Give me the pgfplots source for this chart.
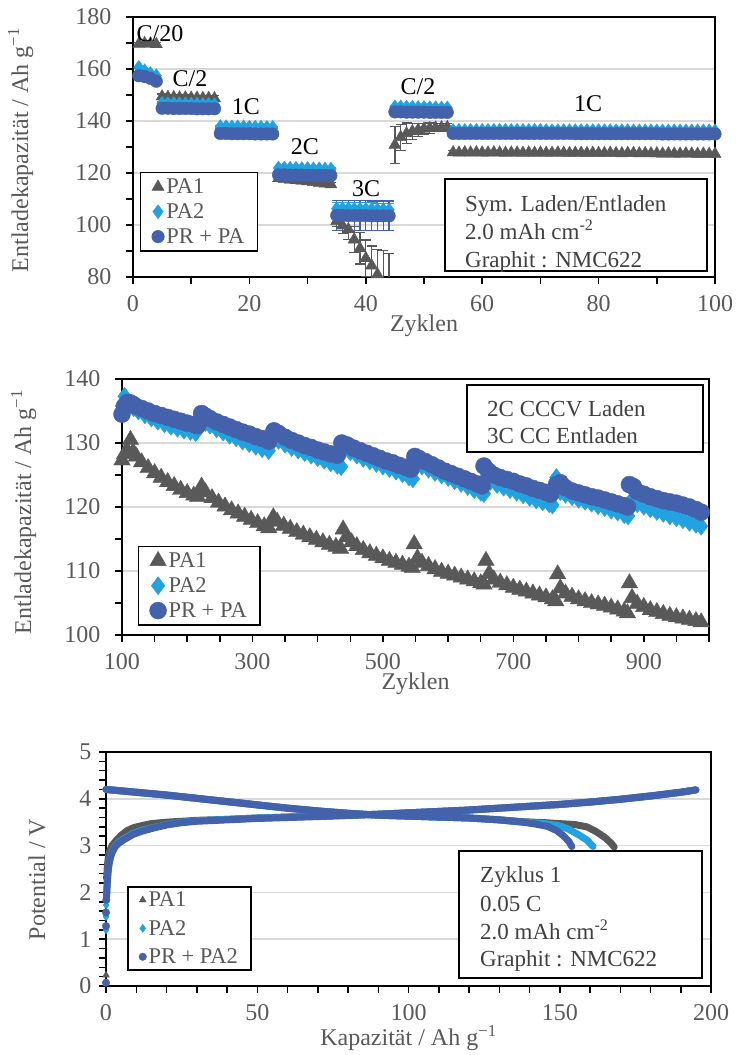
\documentclass[border=0pt]{standalone}
\usepackage{fontspec}
\setmainfont{Liberation Serif}
\usepackage{pgfplots}
\usepackage{pgfplotstable}
\pgfplotsset{compat=1.18}
\definecolor{cPAone}{HTML}{595959}
\definecolor{cPAtwo}{HTML}{22A2E0}
\definecolor{cPR}{HTML}{4462AB}
\definecolor{tgray}{HTML}{595959}
\definecolor{dgray}{HTML}{404040}
\definecolor{ggray}{HTML}{D9D9D9}
\newcommand{\fs}{\fontsize{24}{28}\selectfont}
\newcommand{\fb}{\fontsize{23}{27}\selectfont}
\newcommand{\fl}{\fontsize{22.5}{26}\selectfont}
\pgfplotsset{
  base/.style={
    scale only axis,
    axis line style={black, line width=1.8pt},
    ymajorgrids, major grid style={ggray, line width=1.6pt},
    tick align=outside, tick pos=left,
    major tick length=7pt, minor tick length=7pt,
    tick style={black, line width=1.5pt},
    tick label style={font=\fs, text=tgray},
    xticklabel style={yshift=-10pt, inner sep=1pt},
    /pgf/number format/assume math mode=true,
    label style={font=\fs, text=tgray, inner sep=1pt},
    legend cell align=left,
    legend style={draw=black, line width=1.5pt, font=\fl, text=tgray,
      inner xsep=11pt, inner ysep=4pt, row sep=4.5pt,
      nodes={inner sep=2pt, text depth=0.15em}},
    legend image post style={line width=0.4pt},
  }
}
\pgfplotstableread{
x a ea b eb c ec
1 169.6 0.6 160.6 0.5 157.4 0.8
2 169.9 0.6 159.3 0.5 157.1 0.8
3 169.7 0.6 158.2 0.5 156.4 0.8
4 169.5 0.6 157.4 0.5 155.3 0.8
5 149.4 1.0 146.8 0.5 144.9 0.8
6 149.2 1.0 146.7 0.5 144.9 0.8
7 149.1 1.0 146.7 0.5 144.8 0.8
8 149.0 1.0 146.6 0.5 144.8 0.8
9 149.0 1.0 146.6 0.5 144.8 0.8
10 148.9 1.0 146.5 0.5 144.8 0.8
11 148.9 1.0 146.5 0.5 144.7 0.8
12 148.8 1.0 146.4 0.5 144.7 0.8
13 148.8 1.0 146.4 0.5 144.7 0.8
14 148.7 1.0 146.3 0.5 144.7 0.8
15 136.3 0.6 137.8 0.5 135.2 0.8
16 136.2 0.6 137.8 0.5 135.2 0.8
17 136.1 0.6 137.7 0.5 135.1 0.8
18 136.1 0.6 137.7 0.5 135.1 0.8
19 136.0 0.6 137.7 0.5 135.1 0.8
20 136.0 0.6 137.6 0.5 135.1 0.8
21 135.9 0.6 137.6 0.5 135.0 0.8
22 135.9 0.6 137.6 0.5 135.0 0.8
23 135.8 0.6 137.5 0.5 135.0 0.8
24 135.8 0.6 137.5 0.5 135.0 0.8
25 117.9 0.8 121.9 0.5 119.3 0.8
26 117.6 0.8 121.9 0.5 119.3 0.8
27 117.4 0.8 121.8 0.5 119.2 0.8
28 117.2 0.8 121.8 0.5 119.2 0.8
29 117.0 0.8 121.7 0.5 119.2 0.8
30 116.8 0.8 121.7 0.5 119.1 0.8
31 116.5 0.8 121.6 0.5 119.1 0.8
32 116.2 0.8 121.6 0.5 119.1 0.8
33 115.9 0.8 121.5 0.5 119.0 0.8
34 115.6 0.8 121.5 0.5 119.0 0.8
35 101.5 2.0 106.3 2.5 103.7 5.7
36 99.8 3.0 106.2 2.5 103.7 5.7
37 98.3 4.0 106.2 2.5 103.6 5.7
38 94.4 5.0 106.1 2.5 103.6 5.7
39 91.0 6.0 106.1 2.5 103.6 5.7
40 87.2 7.0 106.0 2.5 103.6 5.7
41 84.4 7.5 106.0 2.5 103.5 5.7
42 81.0 9.5 105.9 2.5 103.5 5.7
43 78.2 12.0 105.9 2.5 103.5 5.7
44 76.0 13.0 105.8 2.5 103.5 5.7
45 130.8 7.0 145.4 0.5 143.5 0.8
46 133.8 5.0 145.4 0.5 143.5 0.8
47 135.2 4.0 145.3 0.5 143.4 0.8
48 136.0 3.0 145.3 0.5 143.4 0.8
49 136.6 2.5 145.2 0.5 143.4 0.8
50 137.0 2.0 145.2 0.5 143.4 0.8
51 137.2 2.0 145.1 0.5 143.3 0.8
52 137.4 1.5 145.1 0.5 143.3 0.8
53 137.5 1.5 145.0 0.5 143.3 0.8
54 137.6 1.5 145.0 0.5 143.3 0.8
55 127.9 0.6 136.4 0.4 135.2 0.6
56 127.8 0.6 136.4 0.4 135.2 0.6
57 127.9 0.6 136.4 0.4 135.2 0.6
58 127.8 0.6 136.4 0.4 135.2 0.6
59 127.9 0.6 136.4 0.4 135.2 0.6
60 127.8 0.6 136.4 0.4 135.2 0.6
61 127.8 0.6 136.4 0.4 135.2 0.6
62 127.9 0.6 136.4 0.4 135.2 0.6
63 127.8 0.6 136.4 0.4 135.2 0.6
64 127.7 0.6 136.4 0.4 135.2 0.6
65 127.8 0.6 136.4 0.4 135.2 0.6
66 127.8 0.6 136.4 0.4 135.2 0.6
67 127.7 0.6 136.4 0.4 135.2 0.6
68 127.8 0.6 136.4 0.4 135.2 0.6
69 127.7 0.6 136.4 0.4 135.2 0.6
70 127.8 0.6 136.4 0.4 135.2 0.6
71 127.7 0.6 136.3 0.4 135.2 0.6
72 127.7 0.6 136.3 0.4 135.2 0.6
73 127.8 0.6 136.3 0.4 135.2 0.6
74 127.7 0.6 136.3 0.4 135.2 0.6
75 127.6 0.6 136.3 0.4 135.2 0.6
76 127.7 0.6 136.3 0.4 135.1 0.6
77 127.7 0.6 136.3 0.4 135.1 0.6
78 127.6 0.6 136.3 0.4 135.1 0.6
79 127.7 0.6 136.3 0.4 135.1 0.6
80 127.6 0.6 136.3 0.4 135.1 0.6
81 127.6 0.6 136.3 0.4 135.1 0.6
82 127.7 0.6 136.3 0.4 135.1 0.6
83 127.6 0.6 136.3 0.4 135.1 0.6
84 127.5 0.6 136.3 0.4 135.1 0.6
85 127.6 0.6 136.3 0.4 135.1 0.6
86 127.6 0.6 136.2 0.4 135.1 0.6
87 127.5 0.6 136.2 0.4 135.1 0.6
88 127.6 0.6 136.2 0.4 135.1 0.6
89 127.5 0.6 136.2 0.4 135.1 0.6
90 127.5 0.6 136.2 0.4 135.1 0.6
91 127.4 0.6 136.2 0.4 135.0 0.6
92 127.5 0.6 136.2 0.4 135.0 0.6
93 127.4 0.6 136.2 0.4 135.0 0.6
94 127.4 0.6 136.2 0.4 135.0 0.6
95 127.5 0.6 136.2 0.4 135.0 0.6
96 127.4 0.6 136.2 0.4 135.0 0.6
97 127.3 0.6 136.2 0.4 135.0 0.6
98 127.4 0.6 136.2 0.4 135.0 0.6
99 127.3 0.6 136.2 0.4 135.0 0.6
100 127.3 0.6 136.2 0.4 135.0 0.6
}\ratetab
\begin{document}
\begin{tikzpicture}
\path[use as bounding box] (0pt,0pt) rectangle (739pt,1055pt);
% ---------------- Panel 1 ----------------
\begin{axis}[base,
  at={(133pt,778pt)}, anchor=south west,
  width=582pt, height=260pt,
  xmin=0, xmax=100, ymin=80, ymax=180,
  xtick={0,20,...,100}, ytick={80,100,...,180},
  minor x tick num=1, minor y tick num=1,
  yticklabel style={xshift=-11pt},
  xlabel={Zyklen}, ylabel={Entladekapazität / Ah g\textsuperscript{−1}},
  xlabel style={at={(axis description cs:0.5,-0.2115)}, anchor=base},
  ylabel style={at={(axis description cs:-0.193,0.488)}, anchor=center},
  legend style={at={(0.012,0.404)}, anchor=north west},
  error bars/y dir=both, error bars/y explicit,
]
\addplot[only marks, mark=triangle*, mark size=7pt, color=cPAone,
  error bars/error bar style={line width=1.2pt, cPAone},
  error bars/error mark options={rotate=90, mark size=5pt, line width=1.2pt, cPAone}]
  table[x=x, y=a, y error=ea] {\ratetab};
\addplot[only marks, mark=diamond*, mark size=7pt, color=cPAtwo,
  error bars/error bar style={line width=1.2pt, cPAtwo},
  error bars/error mark options={rotate=90, mark size=5pt, line width=1.2pt, cPAtwo}]
  table[x=x, y=b, y error=eb] {\ratetab};
\addplot[only marks, mark=*, mark size=6.3pt, color=cPR,
  error bars/error bar style={line width=1.2pt, cPR},
  error bars/error mark options={rotate=90, mark size=5pt, line width=1.2pt, cPR}]
  table[x=x, y=c, y error=ec] {\ratetab};
\legend{PA1, PA2, PR + PA}
\end{axis}
% rate labels
\begin{scope}[every node/.style={font=\fs, text=black, anchor=base, inner sep=0pt}]
\node at (160pt,1013pt) {C/20};
\node at (190pt,968pt) {C/2};
\node at (246pt,940pt) {1C};
\node at (305pt,900pt) {2C};
\node at (366pt,858pt) {3C};
\node at (418pt,960pt) {C/2};
\node at (588pt,943pt) {1C};
\end{scope}
\draw[black, line width=1.5pt, fill=white] (445pt,784pt) rectangle (707pt,876pt);
\begin{scope}[every node/.style={font=\fb, text=dgray, anchor=base west, inner sep=0pt}]
\node at (465pt,843pt) {Sym. Laden/Entladen};
\node at (465pt,815pt) {2.0 mAh cm\textsuperscript{-2}};
\node at (465pt,787pt) {Graphit : NMC622};
\end{scope}
% ---------------- Panel 2 ----------------
\begin{axis}[base,
  at={(122pt,420pt)}, anchor=south west,
  width=587pt, height=256pt,
  xmin=100, xmax=1000, ymin=100, ymax=140,
  xtick={100,300,...,900}, minor xtick={150,200,250,350,400,450,550,600,650,750,800,850,950,1000},
  ytick={100,110,...,140}, minor y tick num=1,
  yticklabel style={xshift=-11pt},
  clip=false,
  xlabel={Zyklen}, ylabel={Entladekapazität / Ah g\textsuperscript{−1}},
  xlabel style={at={(axis description cs:0.5,-0.212)}, anchor=base},
  ylabel style={at={(axis description cs:-0.1675,0.48)}, anchor=center},
  legend style={at={(0.027,0.348)}, anchor=north west},
]
\addplot[only marks, mark=triangle*, mark size=9.5pt, color=cPAone] coordinates {
(100,127.3)(104,128.3)(108,128.8)(113,130.5)(117,128.6)(122,127.9)(130,127.0)(140,126.1)(150,125.3)(160,124.6)
(170,123.9)(180,123.3)(190,122.7)(200,122.2)(210,121.8)(216,121.6)(222,123.2)(228,122.3)(238,121.4)(248,120.7)
(258,120.1)(268,119.5)(278,119.0)(288,118.5)(298,118.0)(308,117.5)(318,117.0)(325,116.7)(332,118.4)(338,117.7)
(348,117.1)(358,116.6)(368,116.1)(378,115.7)(388,115.3)(398,114.9)(408,114.5)(418,114.1)(428,113.8)(435,113.5)
(439,116.5)(444,115.3)(452,114.5)(460,113.9)(470,113.3)(480,112.8)(490,112.4)(500,112.0)(510,111.6)(520,111.3)
(530,111.0)(540,110.7)(545,110.5)(548,114.2)(553,112.0)(560,111.3)(570,110.8)(580,110.3)(590,109.9)(600,109.6)
(610,109.3)(620,109.0)(630,108.7)(640,108.4)(650,108.1)(655,107.9)(658,111.6)(663,109.6)(670,108.7)(680,108.2)
(690,107.8)(700,107.4)(710,107.1)(720,106.8)(730,106.5)(740,106.2)(750,105.9)(760,105.6)(765,105.3)(768,109.5)
(772,107.3)(780,106.5)(790,106.0)(800,105.6)(810,105.3)(820,105.0)(830,104.8)(840,104.6)(850,104.3)(860,104.0)
(870,103.7)(875,103.4)(878,108.1)(882,105.8)(890,104.9)(900,104.4)(910,103.9)(920,103.6)(930,103.3)(940,103.0)
(950,102.8)(960,102.6)(970,102.4)(980,102.2)(988,102.0)};
\addplot[only marks, mark=diamond*, mark size=9pt, color=cPAtwo] coordinates {
(100,135.8)(104,137.3)(108,136.6)(112,136.0)(118,135.5)(125,135.0)(135,134.4)(145,133.9)(155,133.4)(165,133.0)
(175,132.6)(185,132.3)(195,132.0)(205,131.8)(213,131.6)(222,133.6)(228,133.2)(235,132.8)(245,132.2)(255,131.7)
(265,131.2)(275,130.8)(285,130.3)(295,129.9)(305,129.5)(315,129.1)(325,128.8)(333,130.5)(340,130.4)(350,129.8)
(360,129.3)(370,128.9)(380,128.5)(390,128.1)(400,127.7)(410,127.3)(420,126.9)(430,126.5)(436,126.3)(441,129.0)
(450,128.6)(460,128.1)(470,127.6)(480,127.2)(490,126.8)(500,126.4)(510,126.0)(520,125.6)(530,125.2)(540,124.7)
(546,124.4)(551,126.8)(560,126.4)(570,125.9)(580,125.4)(590,125.0)(600,124.6)(610,124.1)(620,123.7)(630,123.2)
(640,122.7)(650,122.3)(655,122.1)(658,124.6)(665,124.0)(675,123.5)(685,123.1)(695,122.7)(705,122.3)(715,121.9)
(725,121.5)(735,121.1)(745,120.8)(755,120.5)(760,120.3)(766,124.6)(772,122.4)(780,122.0)(790,121.6)(800,121.2)
(810,120.9)(820,120.6)(830,120.2)(840,119.9)(850,119.5)(860,119.2)(870,118.8)(876,118.6)(880,120.9)(890,120.5)
(900,120.1)(910,119.7)(920,119.3)(930,119.0)(940,118.6)(950,118.3)(960,118.0)(970,117.6)(980,117.3)(988,117.0)};
\addplot[only marks, mark=*, mark size=8.5pt, color=cPR] coordinates {
(100,134.5)(104,135.8)(108,136.3)(112,136.3)(116,136.1)(120,135.8)(130,135.4)(140,135.0)(150,134.6)(160,134.3)
(170,134.0)(180,133.7)(190,133.4)(200,133.1)(210,132.9)(216,132.7)(222,134.6)(228,134.2)(235,133.8)(245,133.3)
(255,132.9)(265,132.5)(275,132.1)(285,131.7)(295,131.4)(305,131.0)(315,130.7)(325,130.3)(333,131.9)(340,131.5)
(350,130.9)(360,130.4)(370,130.0)(380,129.6)(390,129.3)(400,128.9)(410,128.6)(420,128.3)(430,128.1)(437,130.0)
(445,129.7)(455,129.2)(465,128.8)(475,128.4)(485,128.0)(495,127.6)(505,127.2)(515,126.9)(525,126.5)(535,126.2)
(543,125.9)(549,127.9)(555,127.6)(565,127.1)(575,126.6)(585,126.1)(595,125.6)(605,125.2)(615,124.8)(625,124.4)
(635,124.0)(645,123.6)(652,123.3)(655,126.4)(662,125.6)(670,125.0)(680,124.6)(690,124.3)(700,124.0)(710,123.6)
(720,123.3)(730,122.9)(740,122.6)(750,122.3)(757,122.0)(766,123.5)(772,123.8)(780,123.0)(790,122.5)(800,122.2)
(810,121.9)(820,121.6)(830,121.4)(840,121.1)(850,120.8)(860,120.5)(870,120.2)(875,120.0)(878,123.5)(884,123.2)
(890,122.4)(900,122.0)(910,121.6)(920,121.3)(930,121.0)(940,120.8)(950,120.6)(960,120.3)(970,120.0)(980,119.6)
(988,119.2)};
\legend{PA1, PA2, PR + PA}
\end{axis}
\draw[black, line width=1.5pt, fill=white] (467pt,603pt) rectangle (703pt,670pt);
\begin{scope}[every node/.style={font=\fb, text=dgray, anchor=base west, inner sep=0pt}]
\node at (487pt,638pt) {2C CCCV Laden};
\node at (487pt,611pt) {3C CC Entladen};
\end{scope}
% ---------------- Panel 3 ----------------
\begin{axis}[base,
  at={(106pt,69pt)}, anchor=south west,
  width=605pt, height=234pt,
  xmin=0, xmax=200, ymin=0, ymax=5,
  xtick={0,50,...,200}, ytick={0,1,...,5},
  minor x tick num=4, minor y tick num=4,
  yticklabel style={xshift=-4pt},
  clip=false,
  xlabel={Kapazität / Ah g\textsuperscript{−1}}, ylabel={Potential / V},
  xlabel style={at={(axis description cs:0.5,-0.255)}, anchor=base},
  ylabel style={at={(axis description cs:-0.114,0.455)}, anchor=center},
  legend style={at={(0.035,0.427)}, anchor=north west, row sep=8pt, inner ysep=3pt},
]
\addlegendimage{only marks, mark=triangle*, mark size=4pt, color=cPAone}
\addlegendimage{only marks, mark=diamond*, mark size=4pt, color=cPAtwo}
\addlegendimage{only marks, mark=*, mark size=3.8pt, color=cPR}
% PA1
\addplot[forget plot, cPAone, line width=7pt, line cap=round, line join=round] coordinates {
(0.2,2.3)(0.5,2.6)(1,2.85)(2,3.0)(3.5,3.12)(5,3.22)(7,3.32)(9,3.38)(12,3.43)(15,3.47)(20,3.5)(25,3.52)(30,3.54)
(40,3.56)(50,3.59)(60,3.61)(70,3.63)(80,3.645)(90,3.67)(100,3.7)(110,3.73)(120,3.76)(130,3.8)(140,3.84)
(150,3.88)(160,3.93)(170,3.99)(180,4.06)(190,4.14)(195,4.19)};
\addplot[forget plot, cPAone, line width=7pt, line cap=round, line join=round] coordinates {
(0,4.2)(10,4.14)(20,4.08)(30,4.01)(40,3.94)(50,3.87)(60,3.8)(70,3.74)(80,3.69)(90,3.65)(100,3.63)(110,3.61)
(120,3.59)(130,3.55)(138,3.51)(145,3.49)(150,3.47)(155,3.45)(159,3.4)(162,3.3)(165,3.17)(167,3.05)(168,2.97)};
\addplot[forget plot, only marks, mark=triangle*, mark size=4pt, cPAone] coordinates {(0,0.23)};
% PA2
\addplot[forget plot, cPAtwo, line width=7pt, line cap=round, line join=round] coordinates {
(0.2,1.95)(0.4,2.22)(0.7,2.47)(1,2.62)(1.5,2.77)(2,2.87)(3,2.99)(4,3.06)(6,3.15)(9,3.26)(12,3.33)(16,3.39)(20,3.45)
(25,3.5)(30,3.53)(40,3.56)(50,3.59)(60,3.61)(70,3.63)(80,3.645)(90,3.67)(100,3.7)(110,3.73)(120,3.76)(130,3.8)
(140,3.84)(150,3.88)(160,3.93)(170,3.99)(180,4.06)(190,4.14)(195,4.19)};
\addplot[forget plot, cPAtwo, line width=7pt, line cap=round, line join=round] coordinates {
(0,4.2)(10,4.14)(20,4.08)(30,4.01)(40,3.94)(50,3.87)(60,3.8)(70,3.74)(80,3.69)(90,3.65)(100,3.63)(110,3.61)
(120,3.59)(130,3.55)(138,3.5)(145,3.47)(150,3.42)(153,3.35)(156,3.24)(159,3.12)(161,2.98)};
\addplot[forget plot, only marks, mark=diamond*, mark size=4pt, cPAtwo] coordinates {(0,1.2)(0,1.48)(0.05,1.73)};
% PR + PA2
\addplot[forget plot, cPR, line width=7pt, line cap=round, line join=round] coordinates {
(0.2,1.9)(0.4,2.2)(0.7,2.45)(1,2.6)(1.5,2.75)(2,2.85)(3,2.97)(4,3.04)(6,3.13)(9,3.24)(12,3.31)(16,3.38)(20,3.44)
(25,3.49)(30,3.52)(40,3.55)(50,3.58)(60,3.6)(70,3.62)(80,3.645)(90,3.67)(100,3.7)(110,3.73)(120,3.76)(130,3.8)
(140,3.84)(150,3.88)(160,3.93)(170,3.99)(180,4.06)(190,4.14)(195,4.19)};
\addplot[forget plot, cPR, line width=7pt, line cap=round, line join=round] coordinates {
(0,4.2)(10,4.14)(20,4.08)(30,4.01)(40,3.94)(50,3.87)(60,3.8)(70,3.74)(80,3.69)(90,3.65)(100,3.63)(110,3.61)
(120,3.59)(130,3.55)(138,3.5)(142,3.46)(146,3.41)(149,3.32)(151,3.22)(153,3.09)(154,2.98)};
\addplot[forget plot, only marks, mark=*, mark size=3.8pt, cPR] coordinates {(0,0.07)(0,1.28)(0,1.57)(0.1,1.84)};
\legend{PA1, PA2, PR + PA2}
\end{axis}
\draw[black, line width=1.5pt, fill=white] (459pt,77pt) rectangle (702pt,204pt);
\begin{scope}[every node/.style={font=\fb, text=dgray, anchor=base west, inner sep=0pt}]
\node at (480pt,172pt) {Zyklus 1};
\node at (480pt,143pt) {0.05 C};
\node at (480pt,115pt) {2.0 mAh cm\textsuperscript{-2}};
\node at (480pt,88pt) {Graphit : NMC622};
\end{scope}
\end{tikzpicture}
\end{document}
